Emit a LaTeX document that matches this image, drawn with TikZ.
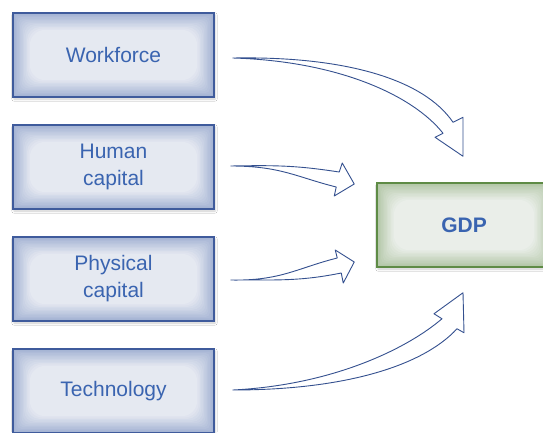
\documentclass[tikz,border=0pt]{standalone}
\usepackage{fontspec}
\setmainfont{Liberation Sans}
\usetikzlibrary{shadows.blur}

\definecolor{bluebox}{HTML}{3F5B9C}
\definecolor{blueglow}{HTML}{A3B2D3}
\definecolor{bluecentre}{HTML}{E5E9F1}
\definecolor{greenbox}{HTML}{5E8B45}
\definecolor{greenglow}{HTML}{B2C6A6}
\definecolor{greencentre}{HTML}{EAEEE9}
\definecolor{textblue}{HTML}{3A64B0}
\definecolor{arrowblue}{HTML}{34508F}

\tikzset{glow/.style 2 args={path picture={
    \foreach \k in {0,...,12}{
        \pgfmathtruncatemacro\p{100-\k*100/12}
        \fill[#1!\p!#2, rounded corners=\k*1.3pt]
            ([shift={(\k*1.4pt,-\k*1.4pt)}]path picture bounding box.north west) rectangle
            ([shift={(-\k*1.4pt,\k*1.4pt)}]path picture bounding box.south east);
    }}}}
\tikzstyle{factor} = [draw=bluebox, line width=1.5pt, minimum width=201pt, minimum height=84pt,
    text=textblue, font=\fontsize{21}{27}\selectfont, align=center, glow={blueglow}{bluecentre},
    blur shadow={shadow xshift=1pt, shadow yshift=-2pt, shadow opacity=20}]
\tikzstyle{goal} = [factor, draw=greenbox, minimum width=174pt, glow={greenglow}{greencentre}]
\tikzstyle{arw} = [draw=arrowblue, fill=white, line width=0.9pt, line join=round]

\begin{document}
\begin{tikzpicture}[x=1pt,y=-1pt]

    \fill[white] (0,0) rectangle (543,432);
    \useasboundingbox (0,0) rectangle (543,432);
    \clip (0,0) rectangle (543,432);

\node[factor] (wf) at (113.5,55) {Workforce};
\node[factor] (hc) at (113.5,167) {Human\\capital};
\node[factor] (pc) at (113.5,279) {Physical\\capital};
\node[factor] (tech) at (113.5,391) {Technology};
\node[goal] (gdp) at (464,225) {\textbf{GDP}};

    % tails and tips of the bent arrows
    \coordinate (t1) at ([shift={(18,3)}]wf.east);
    \coordinate (t2) at ([shift={(16,-1)}]hc.east);
    \coordinate (t3) at ([shift={(16,1)}]pc.east);
    \coordinate (t4) at ([shift={(18,-1)}]tech.east);
    \coordinate (p1) at ([shift={(-1,-26)}]gdp.north);
    \coordinate (p2) at ([shift={(-22,-41)}]gdp.west);
    \coordinate (p3) at ([shift={(-22,37)}]gdp.west);
    \coordinate (p4) at ([shift={(-1,25)}]gdp.south);

    \draw[arw] (t1) .. controls +(110,-2) and +(-30,-44) .. ([shift={(-10,-34)}]p1)
        -- ([shift={(0,-39)}]p1) -- (p1) -- ([shift={(-28,-19)}]p1) -- ([shift={(-20,-23)}]p1)
        .. controls +(-30,-38) and +(105,3) .. (t1) -- cycle;
    \draw[arw] (t2) .. controls +(50,-1) and +(-40,-6) .. ([shift={(-15,-12)}]p2)
        -- ([shift={(-12,-21)}]p2) -- (p2) -- ([shift={(-20,12)}]p2) -- ([shift={(-18,3)}]p2)
        .. controls +(-40,-10) and +(50,0) .. (t2) -- cycle;
    \draw[arw] (t3) .. controls +(50,0) and +(-40,8) .. ([shift={(-13,11)}]p3)
        -- ([shift={(-11,21)}]p3) -- (p3) -- ([shift={(-19,-12)}]p3) -- ([shift={(-17,-4)}]p3)
        .. controls +(-40,10) and +(50,1) .. (t3) -- cycle;
    \draw[arw] (t4) .. controls +(100,-5) and +(-35,30) .. ([shift={(-21,26)}]p4)
        -- ([shift={(-29,21)}]p4) -- (p4) -- ([shift={(1,40)}]p4) -- ([shift={(-6,36)}]p4)
        .. controls +(-35,38) and +(110,0) .. (t4) -- cycle;

\end{tikzpicture}
\end{document}
